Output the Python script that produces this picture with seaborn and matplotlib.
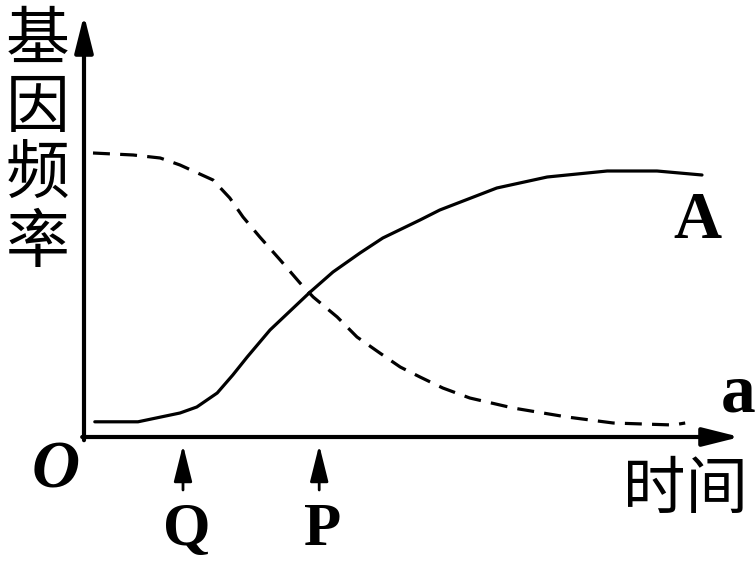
import numpy as np
import pandas as pd
import matplotlib
matplotlib.use("Agg")
import matplotlib.pyplot as plt
import seaborn as sns

# 数据：时间与基因频率
t_A = [0.18, 0.9, 1.6, 1.88, 2.22, 2.48, 2.72, 3.1, 3.77, 4.15, 4.6, 4.98,
       5.6, 5.93, 6.88, 7.72, 8.72, 9.55, 10.3]
freq_A = [0.038, 0.038, 0.06, 0.075, 0.11, 0.155, 0.2, 0.2675, 0.3625, 0.4125,
          0.46, 0.4975, 0.5425, 0.5675, 0.6225, 0.65, 0.665, 0.665, 0.655]

t_a = [0.15, 0.82, 1.27, 1.6, 2.15, 2.43, 2.65, 2.93, 3.27, 3.6, 3.82, 4.22,
       4.55, 4.93, 5.27, 5.6, 5.98, 6.43, 7.15, 8.05, 8.82, 9.82, 10.02]
freq_a = [0.71, 0.705, 0.6975, 0.68, 0.6425, 0.5975, 0.55, 0.5, 0.4425, 0.385,
          0.35, 0.3, 0.25, 0.21, 0.175, 0.15, 0.1225, 0.0975, 0.0725, 0.05,
          0.035, 0.03, 0.035]

marks = ["Q", "P"]
mark_t = [1.65, 3.92]

y_label = "基因频率"
x_label = "时间"

sns.set_theme(style="white")
plt.rcParams['font.family'] = ['Noto Sans CJK SC', 'DejaVu Sans']

W, H = 755, 574
fig = plt.figure(figsize=(W / 100, H / 100), dpi=100)
ax = fig.add_axes([84 / W, (H - 437) / H, (740 - 84) / W, (437 - 15) / H])
ax.set_xlim(0, (740 - 84) / 60)
ax.set_ylim(0, (437 - 15) / 400)
ax.axis("off")

df_A = pd.DataFrame({"时间": t_A, "频率": freq_A})
df_a = pd.DataFrame({"时间": t_a, "频率": freq_a})
sns.lineplot(data=df_A, x="时间", y="频率", color="black", lw=2.3, ax=ax)
sns.lineplot(data=df_a, x="时间", y="频率", color="black", lw=2.3,
             linestyle=(0, (5.3, 3.2)), ax=ax)

# 坐标轴箭头
axis_arrow = dict(arrowstyle="-|>,head_length=1.4,head_width=0.35",
                  color="black", lw=3, shrinkA=0, shrinkB=0, mutation_scale=16)
ax.annotate("", xy=(0, ax.get_ylim()[1]), xytext=(0, -0.008),
            arrowprops=axis_arrow, annotation_clip=False)
ax.annotate("", xy=(ax.get_xlim()[1], 0), xytext=(-0.03, 0),
            arrowprops=axis_arrow, annotation_clip=False)

# Q、P 处的小箭头
small_arrow = dict(arrowstyle="-|>,head_length=1.6,head_width=0.4",
                   color="black", lw=2, shrinkA=0, shrinkB=0, mutation_scale=14)
for name, t in zip(marks, mark_t):
    ax.annotate("", xy=(t, -0.02), xytext=(t, -0.1325),
                arrowprops=small_arrow, annotation_clip=False)


def px(x, y):
    return x / W, 1 - y / H


serif_bold = dict(family="Liberation Serif", weight="bold", ha="center",
                  va="center", color="black")

for name, x in zip(marks, [187, 323]):
    fig.text(*px(x, 530), name, fontsize=44, **serif_bold)

fig.text(*px(697, 222), "A", fontsize=48, **serif_bold)
fig.text(*px(738, 394), "a", fontsize=50, **serif_bold)
fig.text(*px(56, 471), "O", fontsize=48, style="italic", **serif_bold)

cjk = dict(ha="center", va="center", color="black",
           family=['Noto Sans CJK SC', 'DejaVu Sans'])
for i, ch in enumerate(y_label):
    fig.text(*px(38, 41 + i * 67.5), ch, fontsize=46, **cjk)

fig.text(*px(685, 490), x_label, fontsize=45, **cjk)

fig.savefig("out.png", dpi=100, facecolor="white")
